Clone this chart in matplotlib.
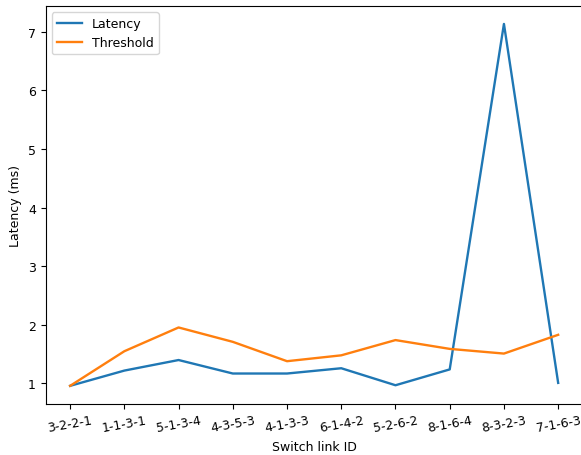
import matplotlib
matplotlib.use('Agg')
import matplotlib.pyplot as plt

linkIds = ['3-2-2-1', '1-1-3-1', '5-1-3-4', '4-3-5-3', '4-1-3-3',
           '6-1-4-2', '5-2-6-2', '8-1-6-4', '8-3-2-3', '7-1-6-3']
latency = [0.96, 1.22, 1.40, 1.17, 1.17, 1.26, 0.97, 1.24, 7.13, 1.01]
threshold = [0.96, 1.55, 1.955, 1.71, 1.38, 1.48, 1.74, 1.59, 1.51, 1.83]

plt.rcParams['font.size'] = 9

fig = plt.figure(figsize=(5.81, 4.56), dpi=100)
ax = fig.add_axes([0.0787, 0.112, 0.924, 0.873])

ax.plot(linkIds, latency, label='Latency', lw=1.7)
ax.plot(linkIds, threshold, label='Threshold', lw=1.7)

ax.set_xlabel('Switch link ID')
ax.set_ylabel('Latency (ms)')
plt.xticks(rotation=10)
ax.legend(loc='upper left')

fig.savefig('out.png', dpi=100)
